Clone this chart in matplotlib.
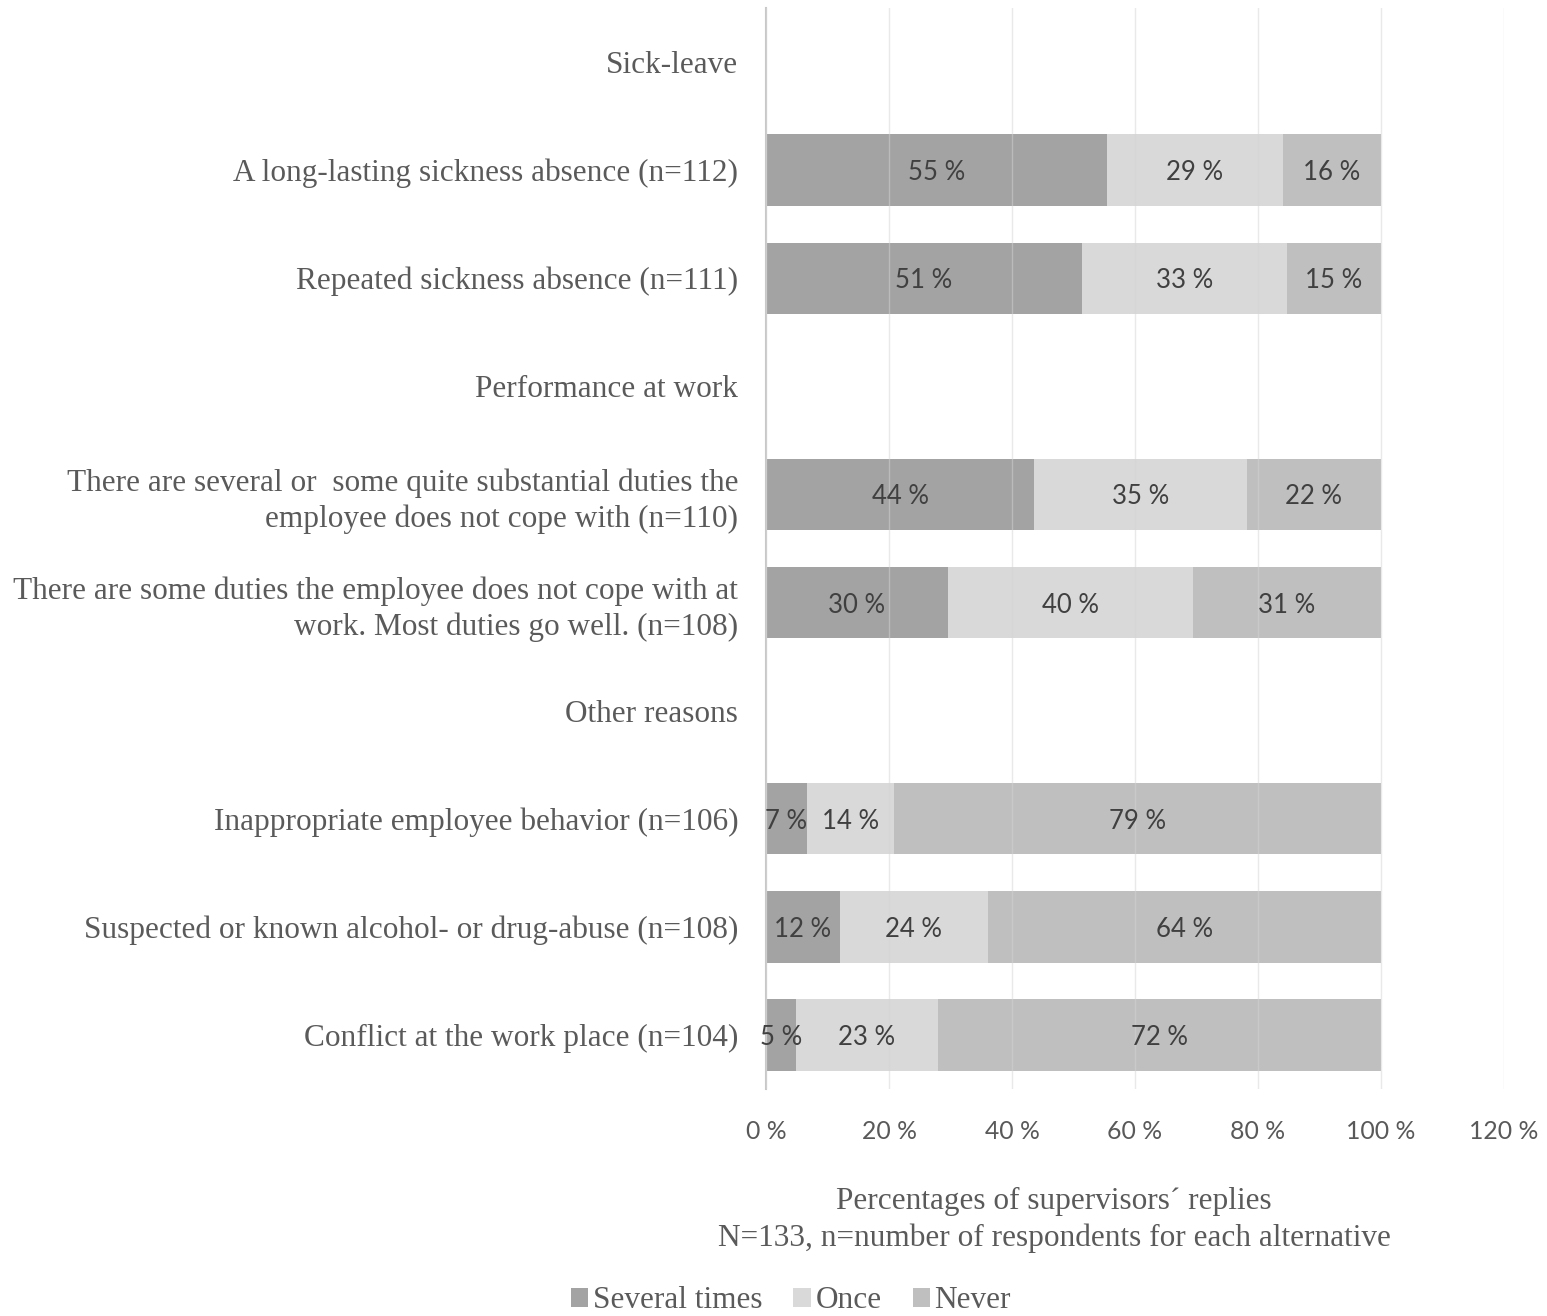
import matplotlib
matplotlib.use("Agg")
import matplotlib.pyplot as plt
import numpy as np
from matplotlib.patches import Patch

categories = [
    "Sick-leave",
    "A long-lasting sickness absence (n=112)",
    "Repeated sickness absence (n=111)",
    "Performance at work",
    "There are several or  some quite substantial duties the\nemployee does not cope with (n=110)",
    "There are some duties the employee does not cope with at\nwork. Most duties go well. (n=108)",
    "Other reasons",
    "Inappropriate employee behavior (n=106)",
    "Suspected or known alcohol- or drug-abuse (n=108)",
    "Conflict at the work place (n=104)",
]
several = [0, 55.4, 51.4, 0, 43.6, 29.6, 0, 6.6, 12.0, 4.8]
once    = [0, 28.6, 33.3, 0, 34.6, 39.8, 0, 14.2, 24.1, 23.1]
never   = [0, 16.0, 15.3, 0, 21.8, 30.6, 0, 79.2, 63.9, 72.1]
series_names = ["Several times", "Once", "Never"]
colors = ["#a3a3a3", "#d9d9d9", "#bfbfbf"]
xticks = [0, 20, 40, 60, 80, 100, 120]

W, H = 1547, 1316
fig = plt.figure(figsize=(W / 100, H / 100), dpi=100)
ax = fig.add_axes([766 / W, 1 - 1089 / H, (1504 - 766) / W, (1089 - 8) / H])

y = np.arange(len(categories))
left = np.zeros(len(categories))
serif = "Liberation Serif"
sans = "Lato"
txtcol = "#5a5a5a"

for vals, name, col in zip([several, once, never], series_names, colors):
    vals = np.array(vals, dtype=float)
    ax.barh(y, vals, left=left, height=0.66, color=col, label=name, zorder=1)
    for yi, v, l in zip(y, vals, left):
        if v > 0:
            ax.text(l + v / 2, yi, f"{round(v):d} %", ha="center", va="center_baseline",
                    fontsize=18.5, color="#404040", family=sans, zorder=3)
    left = left + vals

ax.set_xlim(0, 120)
ax.set_ylim(len(categories) - 0.5, -0.5)
ax.set_xticks(xticks)
ax.set_xticklabels([f"{t} %" for t in xticks], family=sans, fontsize=17.8, color="#595959")
ax.set_yticks(y)
ax.set_yticklabels(categories, family=serif, fontsize=22.5, color=txtcol, linespacing=1.27)
ax.tick_params(axis="y", length=0, pad=20)
ax.tick_params(axis="x", length=0, pad=22)
ax.grid(axis="x", color="#d4d4d4", linewidth=1, alpha=0.5, zorder=2)
ax.set_axisbelow(False)
for s in ["top", "right", "bottom"]:
    ax.spines[s].set_visible(False)
ax.spines["left"].set_color("#c8c8c8")
ax.spines["left"].set_linewidth(1.5)

fig.text(1054 / W, 1 - 1201 / H, "Percentages of supervisors´ replies", ha="center", va="center",
         family=serif, fontsize=22.5, color=txtcol)
fig.text(1054 / W, 1 - 1238 / H, "N=133, n=number of respondents for each alternative", ha="center",
         va="center", family=serif, fontsize=22.5, color=txtcol)

handles = [Patch(facecolor=c, edgecolor="none", label=n) for c, n in zip(colors, series_names)]
fig.legend(handles=handles, loc="center", bbox_to_anchor=(791 / W, 1 - 1301 / H), ncol=3, frameon=False,
           prop={"family": serif, "size": 22.5}, labelcolor=txtcol, handlelength=0.55, handleheight=0.55,
           handletextpad=0.15, columnspacing=1.0)

fig.savefig("out.png", dpi=100, facecolor="white")
